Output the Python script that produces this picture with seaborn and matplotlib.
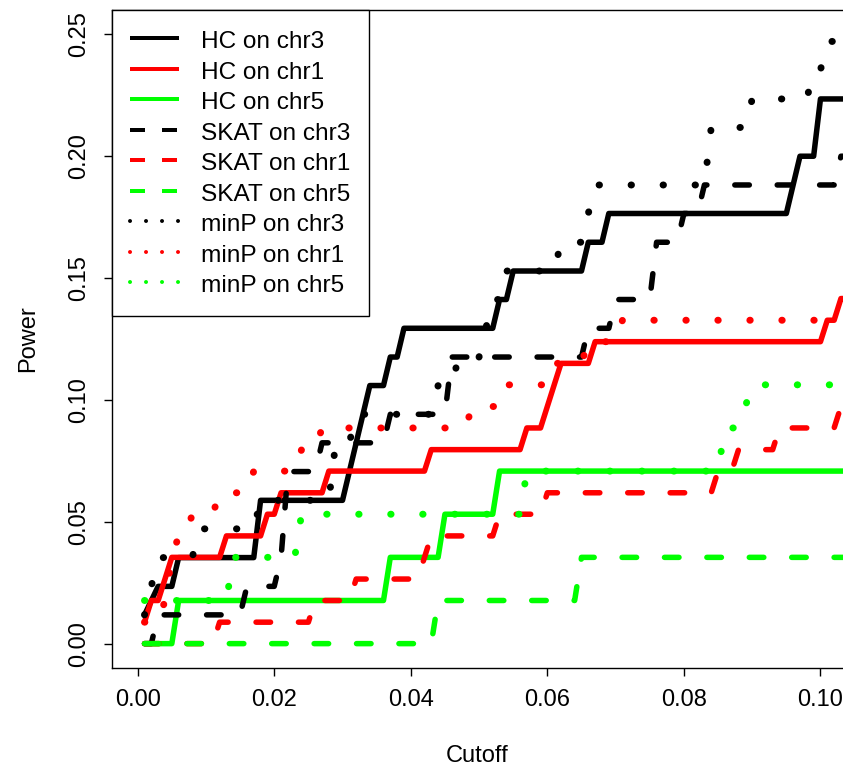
import matplotlib
matplotlib.use("Agg")
import matplotlib.pyplot as plt
from matplotlib.lines import Line2D
import pandas as pd
import seaborn as sns

# ---------------- data ----------------
# vertices of each power curve (cutoff, power); the curves are linear between them
hc_chr3_cutoff = [0.001, 0.003, 0.005, 0.006, 0.017, 0.018, 0.030, 0.034, 0.036, 0.037, 0.038, 0.039,
                  0.052, 0.053, 0.054, 0.055, 0.065, 0.066, 0.068, 0.069, 0.095, 0.097, 0.099, 0.100, 0.106]
hc_chr3_power = [0.0118, 0.0235, 0.0235, 0.0353, 0.0353, 0.0588, 0.0588, 0.1059, 0.1059, 0.1176, 0.1176, 0.1294,
                 0.1294, 0.1412, 0.1412, 0.1529, 0.1529, 0.1647, 0.1647, 0.1765, 0.1765, 0.2000, 0.2000, 0.2235, 0.2235]

hc_chr1_cutoff = [0.001, 0.002, 0.003, 0.004, 0.005, 0.012, 0.013, 0.018, 0.019, 0.020, 0.021, 0.027, 0.028,
                  0.042, 0.043, 0.056, 0.057, 0.059, 0.062, 0.066, 0.067, 0.100, 0.101, 0.102, 0.103, 0.106]
hc_chr1_power = [0.0088, 0.0177, 0.0177, 0.0265, 0.0354, 0.0354, 0.0442, 0.0442, 0.0531, 0.0531, 0.0619, 0.0619, 0.0708,
                 0.0708, 0.0796, 0.0796, 0.0885, 0.0885, 0.1150, 0.1150, 0.1239, 0.1239, 0.1327, 0.1327, 0.1416, 0.1416]

hc_chr5_cutoff = [0.001, 0.005, 0.006, 0.036, 0.037, 0.044, 0.045, 0.052, 0.053, 0.106]
hc_chr5_power = [0.0, 0.0, 0.0177, 0.0177, 0.0354, 0.0354, 0.0531, 0.0531, 0.0708, 0.0708]

skat_chr3_cutoff = [0.001, 0.002, 0.003, 0.015, 0.016, 0.020, 0.021, 0.022, 0.026, 0.027, 0.036, 0.037, 0.045,
                    0.046, 0.065, 0.066, 0.069, 0.070, 0.075, 0.076, 0.079, 0.080, 0.082, 0.083, 0.102, 0.103, 0.106]
skat_chr3_power = [0.0, 0.0, 0.0118, 0.0118, 0.0235, 0.0235, 0.0353, 0.0706, 0.0706, 0.0824, 0.0824, 0.0941, 0.0941,
                   0.1176, 0.1176, 0.1294, 0.1294, 0.1412, 0.1412, 0.1647, 0.1647, 0.1765, 0.1765, 0.1882, 0.1882, 0.2000, 0.2000]

skat_chr1_cutoff = [0.001, 0.011, 0.012, 0.025, 0.026, 0.031, 0.032, 0.041, 0.043, 0.052, 0.053, 0.059, 0.060,
                    0.084, 0.085, 0.087, 0.088, 0.093, 0.094, 0.102, 0.103, 0.106]
skat_chr1_power = [0.0, 0.0, 0.0088, 0.0088, 0.0177, 0.0177, 0.0265, 0.0265, 0.0442, 0.0442, 0.0531, 0.0531, 0.0619,
                   0.0619, 0.0708, 0.0708, 0.0796, 0.0796, 0.0885, 0.0885, 0.0973, 0.0973]

skat_chr5_cutoff = [0.001, 0.043, 0.044, 0.064, 0.065, 0.106]
skat_chr5_power = [0.0, 0.0, 0.0177, 0.0177, 0.0354, 0.0354]

minp_chr3_cutoff = [0.001, 0.002, 0.003, 0.008, 0.009, 0.017, 0.018, 0.028, 0.029, 0.031, 0.032, 0.043, 0.044,
                    0.046, 0.047, 0.050, 0.051, 0.052, 0.053, 0.054, 0.061, 0.062, 0.065, 0.066, 0.067, 0.083,
                    0.084, 0.089, 0.090, 0.098, 0.099, 0.100, 0.101, 0.106]
minp_chr3_power = [0.0118, 0.0235, 0.0353, 0.0353, 0.0471, 0.0471, 0.0588, 0.0588, 0.0824, 0.0824, 0.0941, 0.0941, 0.1059,
                   0.1059, 0.1176, 0.1176, 0.1294, 0.1412, 0.1412, 0.1529, 0.1529, 0.1647, 0.1647, 0.1765, 0.1882, 0.1882,
                   0.2118, 0.2118, 0.2235, 0.2235, 0.2353, 0.2353, 0.2471, 0.2471]

minp_chr1_cutoff = [0.001, 0.003, 0.004, 0.005, 0.006, 0.007, 0.008, 0.011, 0.012, 0.016, 0.017, 0.023, 0.024,
                    0.026, 0.027, 0.048, 0.049, 0.053, 0.054, 0.060, 0.061, 0.065, 0.066, 0.070, 0.071, 0.106]
minp_chr1_power = [0.0088, 0.0088, 0.0177, 0.0354, 0.0442, 0.0442, 0.0531, 0.0531, 0.0619, 0.0619, 0.0708, 0.0708, 0.0796,
                   0.0796, 0.0885, 0.0885, 0.0973, 0.0973, 0.1062, 0.1062, 0.1150, 0.1150, 0.1239, 0.1239, 0.1327, 0.1327]

minp_chr5_cutoff = [0.001, 0.013, 0.014, 0.023, 0.024, 0.056, 0.057, 0.085, 0.086, 0.088, 0.089, 0.090, 0.106]
minp_chr5_power = [0.0177, 0.0177, 0.0354, 0.0354, 0.0531, 0.0531, 0.0708, 0.0708, 0.0885, 0.0885, 0.0973, 0.1062, 0.1062]

series_labels = ["HC on chr3", "HC on chr1", "HC on chr5",
                 "SKAT on chr3", "SKAT on chr1", "SKAT on chr5",
                 "minP on chr3", "minP on chr1", "minP on chr5"]
series_cutoffs = [hc_chr3_cutoff, hc_chr1_cutoff, hc_chr5_cutoff,
                  skat_chr3_cutoff, skat_chr1_cutoff, skat_chr5_cutoff,
                  minp_chr3_cutoff, minp_chr1_cutoff, minp_chr5_cutoff]
series_powers = [hc_chr3_power, hc_chr1_power, hc_chr5_power,
                 skat_chr3_power, skat_chr1_power, skat_chr5_power,
                 minp_chr3_power, minp_chr1_power, minp_chr5_power]

x_ticks = [0.00, 0.02, 0.04, 0.06, 0.08, 0.10]
x_tick_labels = ["0.00", "0.02", "0.04", "0.06", "0.08", "0.10"]
y_ticks = [0.00, 0.05, 0.10, 0.15, 0.20, 0.25]
y_tick_labels = ["0.00", "0.05", "0.10", "0.15", "0.20", "0.25"]

# ---------------- styles ----------------
colors = {"chr3": "#000000", "chr1": "#FF0000", "chr5": "#00FF00"}
PX = 72.0 / 100.0               # points per pixel at dpi 100
LW_SOLID = 5.5 * PX
LW_DASH = 5.5 * PX
LW_DOT = 7.0 * PX
DASH_PATTERN = (2.64, 5.07)     # in line-width units
DOT_PATTERN = (0.05, 4.52)

rows = []
for lab, xs, ys in zip(series_labels, series_cutoffs, series_powers):
    method, _, chrom = lab.split(" ")
    for xv, yv in zip(xs, ys):
        rows.append({"series": lab, "method": method, "chr": chrom, "cutoff": xv, "power": yv})
df = pd.DataFrame(rows)

sns.set_style("ticks")
plt.rcParams["font.family"] = ["Liberation Sans", "DejaVu Sans"]
plt.rcParams["text.color"] = "black"
plt.rcParams["axes.labelcolor"] = "black"
plt.rcParams["xtick.color"] = "black"
plt.rcParams["ytick.color"] = "black"

fig = plt.figure(figsize=(8.43, 7.68), dpi=100)
ax = fig.add_axes([112 / 843, 100 / 768, 731 / 843, 658 / 768])

for lab in series_labels:
    sub = df[df["series"] == lab]
    method = sub["method"].iloc[0]
    chrom = sub["chr"].iloc[0]
    lw = {"HC": LW_SOLID, "SKAT": LW_DASH, "minP": LW_DOT}[method]
    sns.lineplot(data=sub, x="cutoff", y="power", ax=ax, color=colors[chrom],
                 linewidth=lw, sort=False, estimator=None, legend=False)
    line = ax.lines[-1]
    line.set_solid_capstyle("round")
    line.set_dash_capstyle("round")
    line.set_solid_joinstyle("round")
    line.set_dash_joinstyle("round")
    if method == "SKAT":
        line.set_dashes(DASH_PATTERN)
    elif method == "minP":
        line.set_dashes(DOT_PATTERN)

ax.set_xlim(-0.00376, 0.1033)
ax.set_ylim(-0.01, 0.26)
ax.set_xticks(x_ticks, labels=x_tick_labels)
ax.set_yticks(y_ticks, labels=y_tick_labels)
ax.tick_params(axis="both", direction="out", length=8 * PX, width=1.0, labelsize=17, color="black")
ax.tick_params(axis="x", pad=9)
ax.tick_params(axis="y", pad=10, labelrotation=90)
for t in ax.get_yticklabels():
    t.set_va("center")

for side in ["left", "bottom", "top"]:
    ax.spines[side].set_color("black")
    ax.spines[side].set_linewidth(1.0)
ax.spines["right"].set_visible(False)

ax.set_xlabel("Cutoff", fontsize=17)
ax.set_ylabel("Power", fontsize=17)
ax.xaxis.set_label_coords(0.5, -0.117)
ax.yaxis.set_label_coords(-0.100, 0.5)

# legend with thinner sample lines, as in the reference
handles = []
for lab in series_labels:
    method, _, chrom = lab.split(" ")
    if method == "HC":
        h = Line2D([], [], color=colors[chrom], lw=4 * PX, solid_capstyle="butt")
    elif method == "SKAT":
        h = Line2D([], [], color=colors[chrom], lw=4 * PX, linestyle=(0, (3.75, 4.25)), dash_capstyle="butt")
    else:
        h = Line2D([], [], color=colors[chrom], lw=4 * PX, linestyle=(0, (0.01, 3.99)), dash_capstyle="round")
    handles.append(h)

leg = ax.legend(handles, series_labels, loc="upper left", bbox_to_anchor=(0, 1), borderaxespad=0,
                fontsize=17.6, handlelength=1.98, handleheight=1.11, handletextpad=0.93,
                borderpad=0.75, labelspacing=0.22,
                frameon=True, fancybox=False, framealpha=1, edgecolor="black")
leg.get_frame().set_linewidth(1.0)

fig.savefig("out.png", dpi=100)
